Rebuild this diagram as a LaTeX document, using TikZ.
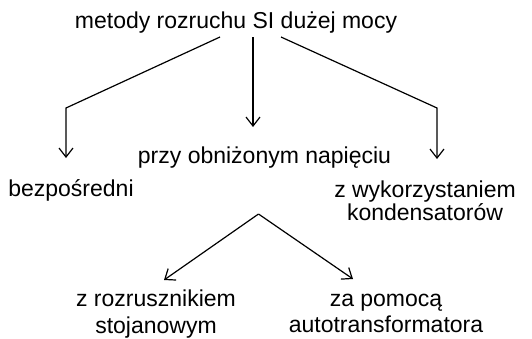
\documentclass[tikz,border=0pt]{standalone}
\usepackage{fontspec}
\setmainfont{Liberation Sans}
\usetikzlibrary{arrows.meta,calc}
\begin{document}
\begin{tikzpicture}[x=1pt,y=-1pt,
  lbl/.style={font=\fontsize{23}{25}\selectfont, align=center, anchor=base, inner sep=0pt},
  conn/.style={line width=1.2pt},
  arr/.style={conn, -{Straight Barb[length=9pt,width=14pt,line width=1.2pt]}}]
\useasboundingbox (0,0) rectangle (532,338);
\node[lbl] (title) at (236,28) {metody rozruchu SI dużej mocy};
\node[lbl] (przy) at (264.5,163) {przy obniżonym napięciu};
\node[lbl] (bez) at (71,196) {bezpośredni};
\node[lbl] (kond) at (425,220) {z wykorzystaniem\\[-2pt]kondensatorów};
\node[lbl] (stoj) at (156,333) {z rozrusznikiem\\[2pt]stojanowym};
\node[lbl] (auto) at (386,332) {za pomocą\\[1pt]autotransformatora};
% starting points under the title
\coordinate (ls) at ($(title.base)+(-16,9)$);
\coordinate (ms) at ($(title.base)+(17,9)$);
\coordinate (rs) at ($(title.base)+(45,9)$);
\coordinate (lt) at ($(bez.base)+(-5,-38)$);
\coordinate (rt) at ($(kond.base)+(12,-61)$);
\coordinate (apex) at ($(przy.base)+(-6,51)$);
\draw[arr] (ls) -- (lt |- 0,108) -- (lt);
\draw[arr] (ms) -- ($(ms |- przy.base)+(0,-36)$);
\draw[arr] (rs) -- (rt |- 0,108) -- (rt);
\draw[arr] (apex) -- ($(stoj.base)+(8,-53)$);
\draw[arr] (apex) -- ($(auto.base)+(-33,-53)$);
\end{tikzpicture}
\end{document}
